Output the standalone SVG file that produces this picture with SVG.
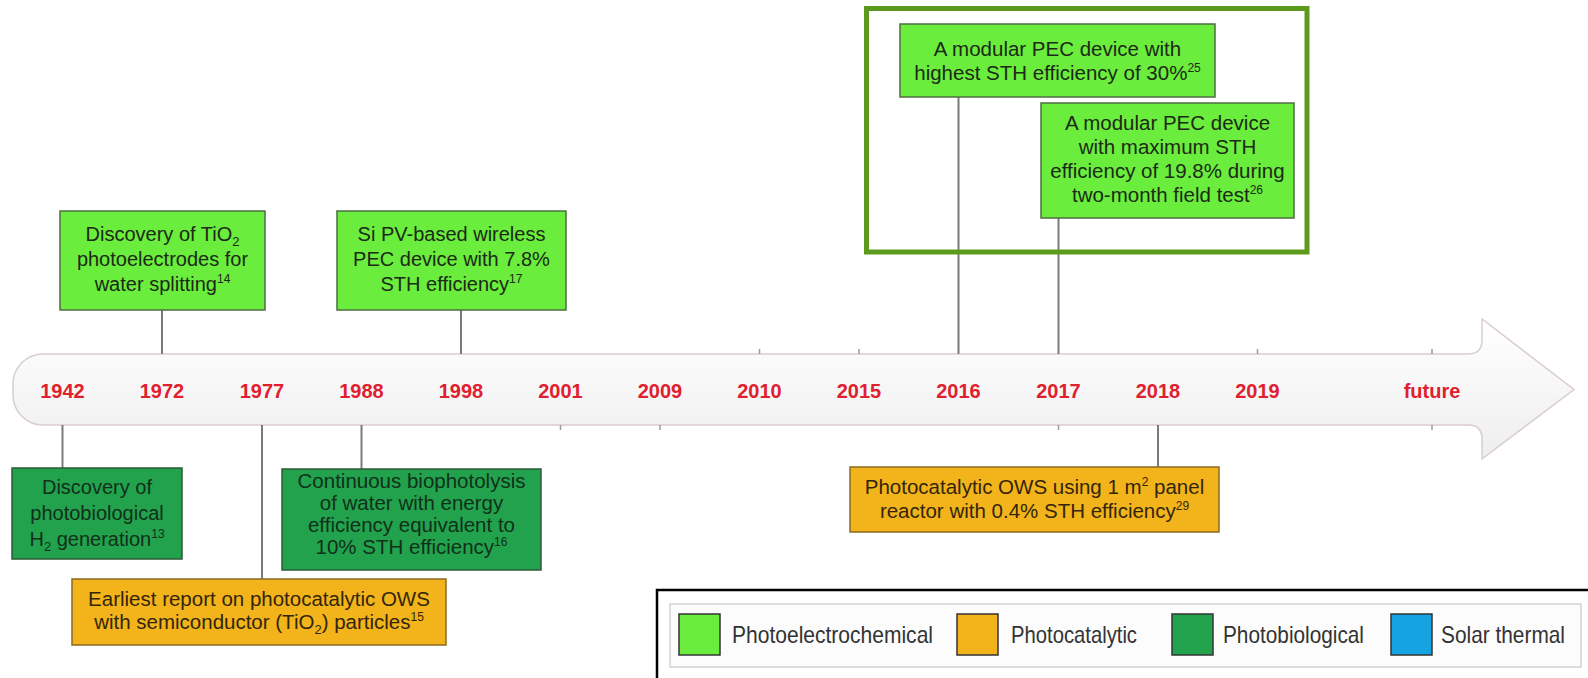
<svg xmlns="http://www.w3.org/2000/svg" width="1588" height="678" viewBox="0 0 1588 678">
<style>
.pec{fill:#6aed3c;stroke:#4e6e40;stroke-width:1.5}
.pc{fill:#f2b31b;stroke:#8a6a20;stroke-width:1.5}
.pb{fill:#22a24c;stroke:#2c5a38;stroke-width:1.5}
.t{font-family:"Liberation Sans",Arial,sans-serif;font-size:20.5px;text-anchor:middle;fill:#1c2a16}
.tb{fill:#10301a}
.to{fill:#33260c}
.yr{font-family:"Liberation Sans",Arial,sans-serif;font-size:20px;font-weight:bold;text-anchor:middle;fill:#e0202e}
.lg{font-family:"Liberation Sans",Arial,sans-serif;font-size:24px;fill:#333}
.con line{stroke:#7a7a7a;stroke-width:2}
.tick line{stroke:#9a9a9a;stroke-width:1.5}
.sw{stroke:#333;stroke-width:1.5}
</style>
<defs>
<linearGradient id="band" x1="0" y1="0" x2="0" y2="1">
<stop offset="0" stop-color="#ffffff"/>
<stop offset="1" stop-color="#eeeeee"/>
</linearGradient>
</defs>
<rect width="1588" height="678" fill="#fff"/>

<g id="timeline">
<path d="M43,354 L1468,354 Q1482,354 1482,340 L1482,319 L1574,389.5 L1482,459 L1482,439 Q1482,425 1468,425 L43,425 A30,30 0 0 1 13,395 L13,384 A30,30 0 0 1 43,354 Z" fill="url(#band)" stroke="#dacdce" stroke-width="1.5"/>
<g class="tick">
<line x1="759.5" y1="349" x2="759.5" y2="354"/>
<line x1="859" y1="349" x2="859" y2="354"/>
<line x1="1257.5" y1="349" x2="1257.5" y2="354"/>
<line x1="1432" y1="349" x2="1432" y2="354"/>
<line x1="560.5" y1="425" x2="560.5" y2="430"/>
<line x1="660" y1="425" x2="660" y2="430"/>
<line x1="1058.5" y1="425" x2="1058.5" y2="430"/>
<line x1="1432" y1="425" x2="1432" y2="430"/>
</g>
<text class="yr" x="62.5" y="398">1942</text>
<text class="yr" x="162" y="398">1972</text>
<text class="yr" x="262" y="398">1977</text>
<text class="yr" x="361.5" y="398">1988</text>
<text class="yr" x="461" y="398">1998</text>
<text class="yr" x="560.5" y="398">2001</text>
<text class="yr" x="660" y="398">2009</text>
<text class="yr" x="759.5" y="398">2010</text>
<text class="yr" x="859" y="398">2015</text>
<text class="yr" x="958.5" y="398">2016</text>
<text class="yr" x="1058.5" y="398">2017</text>
<text class="yr" x="1158" y="398">2018</text>
<text class="yr" x="1257.5" y="398">2019</text>
<text class="yr" x="1432" y="398">future</text>
</g>

<g id="connectors" class="con">
<line x1="162" y1="310" x2="162" y2="354"/>
<line x1="461" y1="310" x2="461" y2="354"/>
<line x1="958.5" y1="97" x2="958.5" y2="354"/>
<line x1="1058.5" y1="218" x2="1058.5" y2="354"/>
<line x1="62.5" y1="425" x2="62.5" y2="468"/>
<line x1="262" y1="425" x2="262" y2="579"/>
<line x1="361.5" y1="425" x2="361.5" y2="469"/>
<line x1="1158" y1="425" x2="1158" y2="467"/>
</g>

<g id="highlight-frame">
<rect x="866.5" y="8.5" width="440.5" height="243.5" fill="none" stroke="#5c9a1e" stroke-width="5"/>
</g>

<g id="node-1972">
<rect class="pec" x="60" y="211" width="205" height="99"/>
<text class="t" style="font-size:20px" x="162.5" y="241">Discovery of TiO<tspan dy="5" font-size="13">2</tspan></text>
<text class="t" style="font-size:20px" x="162.5" y="266">photoelectrodes for</text>
<text class="t" style="font-size:20px" x="162.5" y="291">water splitting<tspan dy="-8" font-size="12">14</tspan></text>
</g>

<g id="node-1998">
<rect class="pec" x="337" y="211" width="229" height="99"/>
<text class="t" style="font-size:20px" x="451.5" y="241">Si PV-based wireless</text>
<text class="t" style="font-size:20px" x="451.5" y="266">PEC device with 7.8%</text>
<text class="t" style="font-size:20px" x="451.5" y="291">STH efficiency<tspan dy="-8" font-size="12">17</tspan></text>
</g>

<g id="node-2016">
<rect class="pec" x="900" y="24" width="315" height="73"/>
<text class="t" x="1057.5" y="56">A modular PEC device with</text>
<text class="t" x="1057.5" y="80">highest STH efficiency of 30%<tspan dy="-8" font-size="12">25</tspan></text>
</g>

<g id="node-2017">
<rect class="pec" x="1041" y="103" width="253" height="115"/>
<text class="t" x="1167.5" y="130">A modular PEC device</text>
<text class="t" x="1167.5" y="154">with maximum STH</text>
<text class="t" x="1167.5" y="178">efficiency of 19.8% during</text>
<text class="t" x="1167.5" y="202">two-month field test<tspan dy="-8" font-size="12">26</tspan></text>
</g>

<g id="node-1942">
<rect class="pb" x="12" y="468" width="170" height="91"/>
<text class="t tb" style="font-size:20px" x="97" y="494">Discovery of</text>
<text class="t tb" style="font-size:20px" x="97" y="520">photobiological</text>
<text class="t tb" style="font-size:20px" x="97" y="546">H<tspan dy="5" font-size="13">2</tspan><tspan dy="-5"> generation</tspan><tspan dy="-8" font-size="12">13</tspan></text>
</g>

<g id="node-1988">
<rect class="pb" x="282" y="469" width="259" height="101"/>
<text class="t tb" x="411.5" y="488">Continuous biophotolysis</text>
<text class="t tb" x="411.5" y="510">of water with energy</text>
<text class="t tb" x="411.5" y="532">efficiency equivalent to</text>
<text class="t tb" x="411.5" y="554">10% STH efficiency<tspan dy="-8" font-size="12">16</tspan></text>
</g>

<g id="node-1977">
<rect class="pc" x="72" y="579" width="374" height="66"/>
<text class="t to" x="259" y="606">Earliest report on photocatalytic OWS</text>
<text class="t to" x="259" y="629">with semiconductor (TiO<tspan dy="5" font-size="13">2</tspan><tspan dy="-5">) particles</tspan><tspan dy="-8" font-size="12">15</tspan></text>
</g>

<g id="node-2018">
<rect class="pc" x="850" y="467" width="369" height="65"/>
<text class="t to" x="1034.5" y="494">Photocatalytic OWS using 1 m<tspan dy="-8" font-size="12">2</tspan><tspan dy="8"> panel</tspan></text>
<text class="t to" x="1034.5" y="518">reactor with 0.4% STH efficiency<tspan dy="-8" font-size="12">29</tspan></text>
</g>

<g id="legend">
<rect x="657" y="590" width="1000" height="200" fill="#fff" stroke="#000" stroke-width="2.5"/>
<rect x="670" y="604" width="911" height="63" fill="#fcfcfc" stroke="#d2d2d2" stroke-width="1.5"/>
<rect class="sw" x="679" y="614" width="41" height="41" fill="#6aed3c"/>
<text class="lg" x="732" y="643" textLength="201" lengthAdjust="spacingAndGlyphs">Photoelectrochemical</text>
<rect class="sw" x="957" y="614" width="41" height="41" fill="#f2b31b"/>
<text class="lg" x="1011" y="643" textLength="126" lengthAdjust="spacingAndGlyphs">Photocatalytic</text>
<rect class="sw" x="1172" y="614" width="41" height="41" fill="#22a24c"/>
<text class="lg" x="1223" y="643" textLength="141" lengthAdjust="spacingAndGlyphs">Photobiological</text>
<rect class="sw" x="1391" y="614" width="41" height="41" fill="#15a3e2"/>
<text class="lg" x="1441" y="643" textLength="124" lengthAdjust="spacingAndGlyphs">Solar thermal</text>
</g>
</svg>
